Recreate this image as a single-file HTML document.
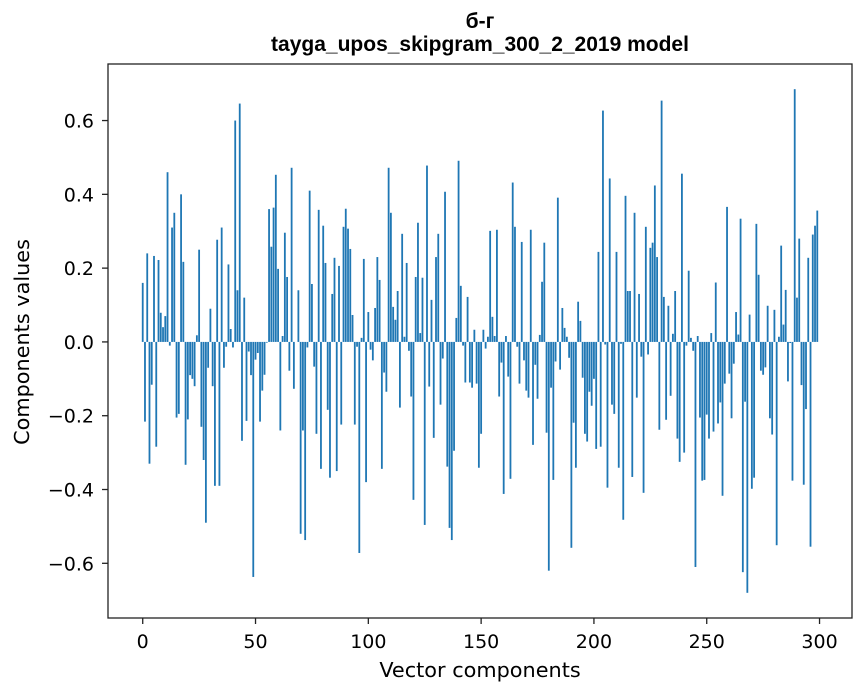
<!DOCTYPE html>
<html><head><meta charset="utf-8"><style>
html,body{margin:0;padding:0;background:#fff;}
svg{display:block;font-family:"DejaVu Sans","Liberation Sans",sans-serif;}
.ttl{font-family:"Liberation Sans","DejaVu Sans",sans-serif;font-weight:bold;}
</style></head><body>
<svg id="chart" width="867" height="696" viewBox="0 0 867 696">
<text class="ttl" x="480" y="28" text-anchor="middle" font-size="21">б-г</text>
<text class="ttl" x="480" y="51" text-anchor="middle" font-size="21">tayga_upos_skipgram_300_2_2019 model</text>
<g id="bars"></g>
<g id="axes"></g>
<text x="480" y="677" text-anchor="middle" font-size="20.8">Vector components</text>
<text transform="translate(29,342) rotate(-90)" text-anchor="middle" font-size="20.8">Components values</text>
</svg>
<script>
const values = [
0.16,-0.216,0.24,-0.33,-0.116,0.233,-0.284,0.222,0.079,0.04,
0.07,0.46,-0.01,0.31,0.35,-0.205,-0.195,0.4,0.217,-0.333,
-0.21,-0.09,-0.1,-0.12,0.018,0.25,-0.23,-0.32,-0.49,-0.07,
0.09,-0.12,-0.39,0.277,-0.39,0.31,-0.07,-0.013,0.21,0.035,
-0.015,0.6,0.14,0.646,-0.268,0.12,-0.214,-0.026,-0.09,-0.637,
-0.048,-0.03,-0.216,-0.132,-0.089,-0.002,0.36,0.258,0.364,0.453,
0.198,-0.24,0.016,0.296,0.176,-0.078,0.472,-0.127,0.0,0.14,
-0.52,-0.24,-0.537,-0.015,0.41,0.157,-0.067,-0.249,0.358,-0.344,
0.315,0.214,-0.184,-0.368,0.13,0.228,-0.35,0.206,-0.224,0.312,
0.361,0.307,0.252,0.073,-0.224,-0.013,-0.572,0.011,0.225,-0.38,
0.081,-0.021,-0.05,0.092,0.23,0.168,-0.344,-0.083,-0.135,0.472,
0.35,0.095,0.06,0.138,-0.178,0.293,0.014,0.214,-0.024,-0.148,
-0.428,0.176,0.323,0.024,0.174,-0.496,0.478,-0.121,0.114,-0.26,
0.23,0.293,-0.17,-0.045,0.407,-0.338,-0.504,-0.537,-0.295,0.065,
0.491,0.152,-0.01,-0.11,0.122,-0.11,-0.124,0.033,-0.113,-0.341,
-0.249,0.033,-0.018,0.014,0.301,0.068,0.016,0.304,-0.148,-0.056,
-0.412,0.016,-0.094,-0.371,0.432,0.312,-0.013,-0.113,0.271,-0.05,
-0.132,-0.151,0.304,-0.279,-0.062,-0.154,0.019,0.163,0.269,-0.246,
-0.62,-0.124,-0.374,-0.053,0.391,-0.075,0.092,0.038,0.014,-0.043,
-0.558,-0.219,-0.341,0.109,0.057,-0.097,-0.249,-0.27,-0.135,-0.173,
-0.1,-0.29,0.244,-0.284,0.627,-0.007,-0.395,0.443,-0.17,-0.195,
0.244,-0.341,-0.005,-0.482,0.396,0.138,0.138,-0.366,0.35,-0.151,
0.13,-0.04,-0.409,0.312,-0.034,0.255,0.269,0.424,0.23,-0.238,
0.654,0.122,-0.211,0.098,-0.146,0.022,0.138,-0.262,-0.325,0.456,
-0.3,-0.01,0.193,0.011,-0.024,-0.61,0.016,-0.205,-0.376,-0.374,
-0.197,-0.262,0.024,-0.243,0.161,-0.221,-0.164,-0.417,-0.113,0.366,
-0.086,-0.207,-0.059,0.081,0.02,0.334,-0.624,-0.162,-0.68,0.074,
-0.398,-0.368,0.32,0.182,-0.078,-0.089,-0.069,0.098,-0.207,-0.251,
0.087,-0.551,0.014,0.261,0.047,0.141,-0.107,-0.003,-0.376,0.685,
0.12,0.28,-0.117,-0.387,-0.182,0.228,-0.555,0.291,0.315,0.356
];
const xTicks = [0,50,100,150,200,250,300];
const yTicks = [-0.6,-0.4,-0.2,0.0,0.2,0.4,0.6];

const L=108,R=852,T=64,B=618;
const n=values.length;
const xMin=-0.4-0.05*(n-0.2), xMax=(n-1)+0.4+0.05*(n-0.2);
const vmin=Math.min(0,...values), vmax=Math.max(0,...values);
const yMin=vmin-0.05*(vmax-vmin), yMax=vmax+0.05*(vmax-vmin);
const sx=v=>L+(v-xMin)/(xMax-xMin)*(R-L);
const sy=v=>B-(v-yMin)/(yMax-yMin)*(B-T);
const NS="http://www.w3.org/2000/svg";
const bars=document.getElementById('bars');
values.forEach((v,i)=>{
  const r=document.createElementNS(NS,'rect');
  const x0=sx(i-0.4), x1=sx(i+0.4);
  const y0=sy(Math.max(v,0)), y1=sy(Math.min(v,0));
  r.setAttribute('x',x0);r.setAttribute('width',x1-x0);
  r.setAttribute('y',y0);r.setAttribute('height',Math.max(y1-y0,0.01));
  r.setAttribute('fill','#1f77b4');
  
  
  bars.appendChild(r);
});
const ax=document.getElementById('axes');
const fr=document.createElementNS(NS,'rect');
fr.setAttribute('x',L);fr.setAttribute('y',T);fr.setAttribute('width',R-L);fr.setAttribute('height',B-T);
fr.setAttribute('fill','none');fr.setAttribute('stroke','#222');fr.setAttribute('stroke-width','1.3');


ax.appendChild(fr);
xTicks.forEach(t=>{
  const x=sx(t);
  const l=document.createElementNS(NS,'line');
  l.setAttribute('x1',x);l.setAttribute('x2',x);l.setAttribute('y1',B);l.setAttribute('y2',B+6);l.setAttribute('stroke','#222');l.setAttribute('stroke-width','1.3');
  
  
  ax.appendChild(l);
  const tx=document.createElementNS(NS,'text');
  tx.setAttribute('x',x);tx.setAttribute('y',648);tx.setAttribute('text-anchor','middle');tx.setAttribute('font-size','19');
  tx.textContent=t;
  
  
  ax.appendChild(tx);
});
yTicks.forEach(t=>{
  const y=sy(t);
  const l=document.createElementNS(NS,'line');
  l.setAttribute('x1',L-6);l.setAttribute('x2',L);l.setAttribute('y1',y);l.setAttribute('y2',y);l.setAttribute('stroke','#222');l.setAttribute('stroke-width','1.3');
  
  
  ax.appendChild(l);
  const tx=document.createElementNS(NS,'text');
  tx.setAttribute('x',L-14);tx.setAttribute('y',y+7);tx.setAttribute('text-anchor','end');tx.setAttribute('font-size','19');
  tx.textContent=(t<0?'\u2212':'')+Math.abs(t).toFixed(1);
  
  
  ax.appendChild(tx);
});
</script>
</body></html>
